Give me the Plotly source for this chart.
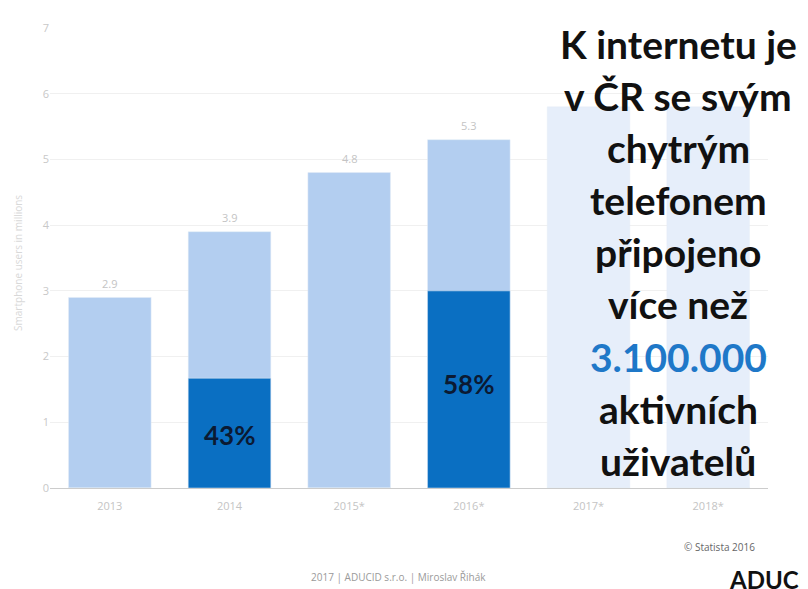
import plotly.graph_objects as go

categories = ["2013", "2014", "2015*", "2016*", "2017*", "2018*"]
total_users = [2.9, 3.9, 4.8, 5.3, 5.8, 5.8]
total_labels = ["2.9", "3.9", "4.8", "5.3", "", ""]
active_users = [0, 1.67, 0, 3.0, 0, 0]
active_share = ["", "43%", "", "58%", "", ""]
share_label_y = [0, 0.8, 0, 1.58, 0, 0]
y_ticks = [0, 1, 2, 3, 4, 5, 6, 7]

headline = ["K internetu je", "v ČR se svým", "chytrým", "telefonem",
            "připojeno", "více než", "3.100.000", "aktivních", "uživatelů"]

# page has an 8px body margin: figure drawn from (8, 8) in the window
O = 8
W, H = 808 - O, 589 - O
L, T = 50 - O, 22 - O
R = W - (768 - O)
B = H - (488 - O)
pw, ph = W - L - R, H - T - B

def px(x):
    return (x - O - L) / pw

def py(y):
    return (H - B - (y - O)) / ph

light = ["#b3cef0", "#b3cef0", "#b3cef0", "#b3cef0", "#e6eefa", "#e6eefa"]

fig = go.Figure()
fig.add_trace(go.Bar(
    x=categories, y=total_users, marker_color=light, width=0.69,
    hoverinfo="skip", showlegend=False,
))
fig.add_trace(go.Bar(
    x=categories, y=active_users, marker_color="#0a6fc2", width=0.69,
    hoverinfo="skip", showlegend=False,
))

for i, s in enumerate(total_labels):
    if s:
        fig.add_annotation(x=i, y=total_users[i], text=s, showarrow=False,
                           yshift=14, yanchor="middle", xanchor="center",
                           font=dict(family="Open Sans", size=11, color="#c4c4c4"))

for i, s in enumerate(active_share):
    if s:
        fig.add_annotation(x=i, y=share_label_y[i], text="<b>%s</b>" % s,
                           showarrow=False, xanchor="center", yanchor="middle",
                           font=dict(family="Lato", size=26, color="#0b1a33"))

line_y = [38, 91, 144, 196, 249, 302, 355, 408, 461]
for t, yy in zip(headline, line_y):
    col = "#1f78c8" if t[0].isdigit() else "#111111"
    fig.add_annotation(xref="paper", yref="paper", x=px(678), y=py(yy),
                       text="<b>%s</b>" % t, showarrow=False,
                       xanchor="center", yanchor="middle",
                       font=dict(family="Lato", size=39, color=col))

fig.add_annotation(xref="paper", yref="paper", x=px(18), y=py(260),
                   text="Smartphone users in millions", textangle=-90,
                   xanchor="center", yanchor="middle",
                   showarrow=False, font=dict(family="Open Sans", size=10, color="#d8d8d8"))
fig.add_annotation(xref="paper", yref="paper", x=px(398), y=py(578),
                   text="2017 | ADUCID s.r.o. | Miroslav Řihák", showarrow=False,
                   xanchor="center", yanchor="middle",
                   font=dict(family="Open Sans", size=10, color="#9a9a9a"))
fig.add_annotation(xref="paper", yref="paper", x=px(757), y=py(548),
                   xanchor="right", yanchor="middle",
                   text="© Statista 2016", showarrow=False,
                   font=dict(family="Open Sans", size=10, color="#666666"))
fig.add_annotation(xref="paper", yref="paper", x=px(727), y=py(581),
                   xanchor="left", yanchor="middle",
                   text="<b>ADUCID</b>", showarrow=False,
                   font=dict(family="Lato", size=24, color="#111111"))

fig.update_layout(
    width=W, height=H, barmode="overlay",
    margin=dict(l=L, r=R, t=T, b=B),
    paper_bgcolor="white", plot_bgcolor="white",
    xaxis=dict(type="category", range=[-0.5, 5.5], showgrid=False, showline=True,
               linecolor="#cccccc", linewidth=1,
               tickfont=dict(family="Open Sans", size=11, color="#c4c4c4"),
               ticks="", ticklabelstandoff=8),
    yaxis=dict(range=[0, 7], tickvals=y_ticks, showgrid=True, gridcolor="#f0f0f0",
               zeroline=False, showline=False,
               tickfont=dict(family="Open Sans", size=11, color="#c8c8c8")),
)

fig.write_html("out.html")
